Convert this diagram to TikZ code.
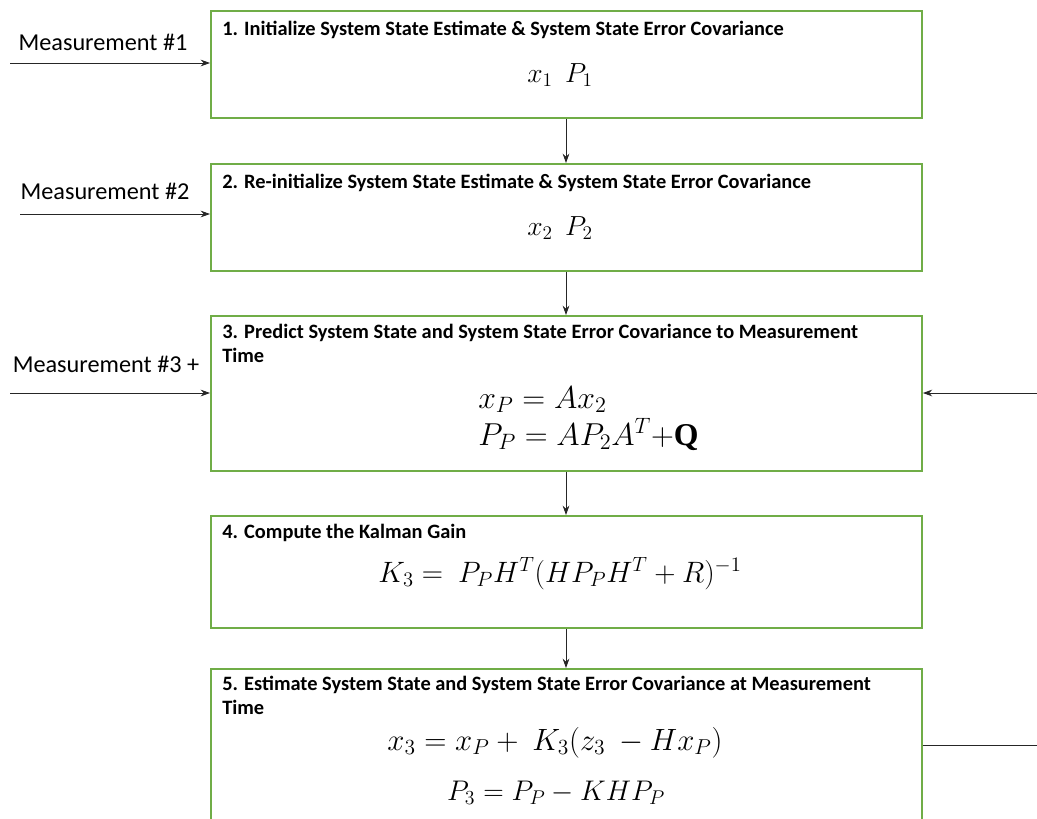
\RequirePackage{fix-cm}
\documentclass[tikz,border=0pt]{standalone}
\usepackage{fontspec}
\setmainfont{Carlito}
\newfontfamily\serifbold{Liberation Serif}
\usetikzlibrary{arrows.meta}
\definecolor{boxgreen}{RGB}{112,173,71}
\begin{document}
\begin{tikzpicture}[x=0.75pt,y=-0.75pt,
  box/.style={draw=boxgreen, line width=1.4pt, fill=white, rectangle, anchor=north west, inner sep=0pt, minimum width=533.25pt},
  ttl/.style={anchor=base west, inner sep=0pt, font=\fontsize{15.3}{17.5}\selectfont\bfseries, align=left},
  meas/.style={anchor=base, inner sep=0pt, font=\fontsize{18.2}{20}\selectfont},
  eq/.style={anchor=base, inner sep=0pt},
  eqw/.style={anchor=base west, inner sep=0pt},
  arr/.style={-{Stealth[length=7pt,width=5pt]}, line width=0.6pt, draw=black!85},
  ln/.style={line width=0.6pt, draw=black!85}]
\useasboundingbox (0,0) rectangle (1037,818);
\begin{scope}
\clip (0,0) rectangle (1037,818);
\node[box, minimum height=80.25pt] (b1) at (210,10) {};
\node[box, minimum height=80.25pt] (b2) at (210,163) {};
\node[box, minimum height=116.25pt] (b3) at (210,315) {};
\node[box, minimum height=84pt] (b4) at (210,515) {};
\node[box, minimum height=150pt] (b5) at (210,668) {};
\end{scope}
% titles
\node[ttl] (t1) at (222,35) {1. Initialize System State Estimate \& System State Error Covariance};
\node[ttl] (t2) at (222,188) {2. Re-initialize System State Estimate \& System State Error Covariance};
\node[ttl] (t3) at (222,362) {3. Predict System State and System State Error Covariance to Measurement\\Time};
\node[ttl] (t4) at (222,538) {4. Compute the Kalman Gain};
\node[ttl] (t5) at (222,714) {5. Estimate System State and System State Error Covariance at Measurement\\Time};
% equations
\node[eq, font=\fontsize{20.7}{24}\selectfont] (e1) at (560,82) {$x_1\ \ P_1$};
\node[eq, font=\fontsize{20.7}{24}\selectfont] (e2) at (560,235) {$x_2\ \ P_2$};
\node[eqw, font=\fontsize{23.8}{28}\selectfont] (e3a) at (478,408) {$x_P = Ax_2$};
\node[eqw, font=\fontsize{23.8}{28}\selectfont] (e3b) at (478,445) {$P_P = AP_2A^T{+}\mbox{\serifbold\bfseries Q}$};
\node[eq, font=\fontsize{22.1}{26}\selectfont] (e4) at (560,582) {$K_3 =\ P_PH^T(HP_PH^T + R)^{-1}$};
\node[eq, font=\fontsize{23.1}{26}\selectfont] (e5a) at (555,750) {$x_3 = x_P +\ K_3(z_3\ - Hx_P)$};
\node[eq, font=\fontsize{21.3}{26}\selectfont] (e5b) at (556,800) {$P_3 = P_P - KHP_P$};
% measurement labels
\node[meas] (l1) at (103,50) {Measurement \#1};
\node[meas] (l2) at (105,199) {Measurement \#2};
\node[meas] (l3) at (106,372) {Measurement \#3 +};
\coordinate (m1) at (10,63);
\coordinate (m2) at (20,214);
\coordinate (m3) at (10,393);
\coordinate (r3) at (1037,393);
\coordinate (r5) at (1037,745);
\draw[arr] (m1) -- (b1.west |- m1);
\draw[arr] (m2) -- (b2.west |- m2);
\draw[arr] (m3) -- (b3.west |- m3);
\draw[arr] (r3) -- (b3.east |- r3);
\draw[ln] (b5.east |- r5) -- (r5);
\draw[arr] (b1.south -| 566,0) -- (b2.north -| 566,0);
\draw[arr] (b2.south -| 566,0) -- (b3.north -| 566,0);
\draw[arr] (b3.south -| 566,0) -- (b4.north -| 566,0);
\draw[arr] (b4.south -| 566,0) -- (b5.north -| 566,0);
\end{tikzpicture}
\end{document}
